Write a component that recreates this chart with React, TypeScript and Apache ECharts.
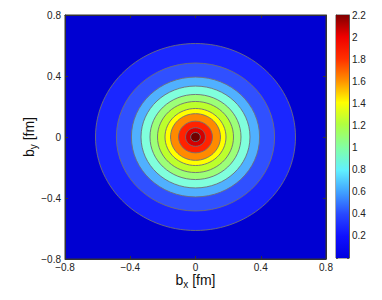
import { useEffect, useRef } from 'react';
import * as echarts from 'echarts';

// contour levels (value of the function) and the radius (fm) where each level line sits
const contourLevels = [0.2, 0.4, 0.6, 0.8, 1.0, 1.2, 1.4, 1.6, 1.8, 2.0, 2.2];
const contourRadii = [0.613, 0.485, 0.393, 0.334, 0.279, 0.233, 0.187, 0.153, 0.104, 0.061, 0.03];
const axisMin = -0.8;
const axisMax = 0.8;
const axisStep = 0.4;
const colorbarMin = 0;
const colorbarMax = 2.2;
const colorbarStep = 0.2;

// styles
const FONT = '"Liberation Sans", Arial, Helvetica, sans-serif';
const ringColors = [
  '#1a26ff', '#3050ff', '#50b0ff', '#80ffdc', '#9cff78', '#bcff2c',
  '#ffff00', '#ff8a00', '#ff2200', '#d40000', '#700000',
];
const backgroundFill = '#0000d2';
const jetStops = [
  [0.0, '#0000e0'], [0.09, '#1010ff'], [0.18, '#2848ff'], [0.27, '#40a0ff'],
  [0.36, '#60f0ff'], [0.45, '#80ffa8'], [0.55, '#b0ff40'], [0.64, '#ffff00'],
  [0.73, '#ff9000'], [0.82, '#ff3000'], [0.91, '#f00000'], [1.0, '#800000'],
];

const fmtTick = (v: number) => {
  if (Math.abs(v) < 1e-9) return '0';
  return (v < 0 ? '\u2212' : '') + String(+Math.abs(v).toFixed(1));
};

export default function App() {
  const ref = useRef<HTMLDivElement>(null);
  useEffect(() => {
    if (!ref.current) return;
    const chart = echarts.init(ref.current, undefined, { renderer: 'svg' });
    const axisLine = { show: true, onZero: false, lineStyle: { color: '#333', width: 1 } };
    const tick = { show: true, inside: true, length: 3, lineStyle: { color: '#333' } };
    const nameRich = {
      b: { fontSize: 14, fontFamily: FONT, color: '#111', lineHeight: 18 },
      s: { fontSize: 10, fontFamily: FONT, color: '#111', lineHeight: 18, padding: [9, 0, 0, 0] },
    };
    const option: any = {
      animation: false,
      backgroundColor: '#fff',
      grid: [
        { left: 65, top: 15, width: 261, height: 244, show: true, backgroundColor: backgroundFill, borderColor: '#333', borderWidth: 1 },
        { left: 336, top: 15, width: 13, height: 243, show: true, borderColor: '#555', borderWidth: 1 },
      ],
      xAxis: [
        {
          gridIndex: 0, type: 'value', min: axisMin, max: axisMax, interval: axisStep, position: 'bottom',
          axisLine, axisTick: tick, splitLine: { show: false },
          axisLabel: { margin: 3, fontSize: 10, color: '#222', fontFamily: FONT, formatter: fmtTick },
          name: '{b|b}{s|x}{b| [fm]}', nameLocation: 'middle', nameGap: 12, nameMoveOverlap: false,
          nameTextStyle: { rich: nameRich },
        },
        {
          gridIndex: 0, type: 'value', min: axisMin, max: axisMax, interval: axisStep, position: 'top',
          axisLine, axisTick: tick, splitLine: { show: false }, axisLabel: { show: false },
        },
        { gridIndex: 1, type: 'category', data: ['colorbar'], show: false },
      ],
      yAxis: [
        {
          gridIndex: 0, type: 'value', min: axisMin, max: axisMax, interval: axisStep, position: 'left',
          axisLine, axisTick: tick, splitLine: { show: false },
          axisLabel: { margin: 4, fontSize: 10, color: '#222', fontFamily: FONT, formatter: fmtTick },
          name: '{b|b}{s|y}{b| [fm]}', nameLocation: 'middle', nameGap: 27, nameRotate: 90, nameMoveOverlap: false,
          nameTextStyle: { rich: nameRich },
        },
        {
          gridIndex: 0, type: 'value', min: axisMin, max: axisMax, interval: axisStep, position: 'right',
          axisLine, axisTick: tick, splitLine: { show: false }, axisLabel: { show: false },
        },
        {
          gridIndex: 1, type: 'value', min: colorbarMin, max: colorbarMax, interval: colorbarStep, position: 'right',
          axisLine: { show: true, onZero: false, lineStyle: { color: '#555' } },
          axisTick: { show: true, inside: true, length: 2, lineStyle: { color: '#555' } },
          splitLine: { show: false },
          axisLabel: {
            margin: 3, fontSize: 10, color: '#222', fontFamily: FONT,
            formatter: (v: number) => (Math.abs(v) < 1e-9 ? '' : String(+v.toFixed(1))),
          },
        },
        {
          gridIndex: 1, type: 'value', min: colorbarMin, max: colorbarMax, interval: colorbarStep, position: 'left',
          axisLine: { show: true, onZero: false, lineStyle: { color: '#555' } },
          axisTick: { show: true, inside: true, length: 2, lineStyle: { color: '#555' } },
          splitLine: { show: false }, axisLabel: { show: false },
        },
      ],
      series: [
        {
          type: 'custom',
          xAxisIndex: 0,
          yAxisIndex: 0,
          silent: true,
          data: contourLevels.map((lv, i) => [lv, contourRadii[i]]),
          renderItem: (params: any, api: any) => {
            const r = api.value(1);
            const c = api.coord([0, 0]);
            const e = api.coord([r, r]);
            return {
              type: 'ellipse',
              shape: { cx: c[0], cy: c[1], rx: Math.abs(e[0] - c[0]), ry: Math.abs(c[1] - e[1]) },
              style: { fill: ringColors[params.dataIndex], stroke: '#6e6e78', lineWidth: 0.9 },
            };
          },
        },
        {
          type: 'bar',
          xAxisIndex: 2,
          yAxisIndex: 2,
          silent: true,
          barWidth: '100%',
          data: [colorbarMax],
          itemStyle: {
            color: new echarts.graphic.LinearGradient(0, 1, 0, 0,
              jetStops.map(([o, c]) => ({ offset: o as number, color: c as string }))),
          },
        },
      ],
    };
    chart.setOption(option);
    return () => chart.dispose();
  }, []);
  return (
    <div
      ref={ref}
      style={{ position: 'fixed', left: 0, top: 0, width: 382, height: 300, background: '#fff' }}
    />
  );
}
